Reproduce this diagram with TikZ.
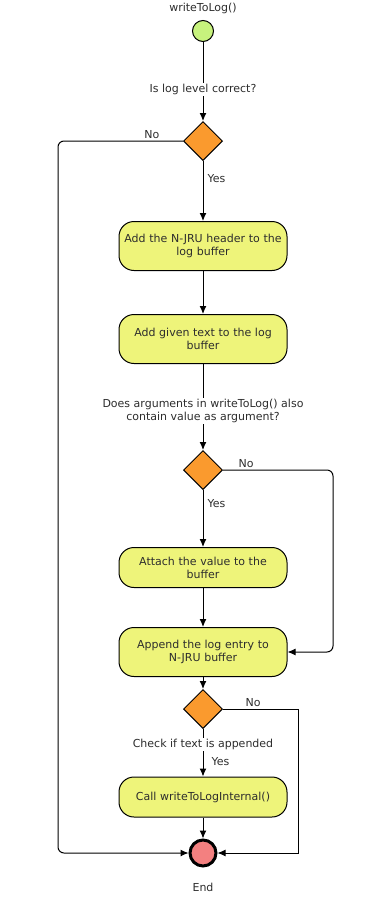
\documentclass[tikz,border=0pt]{standalone}
\usepackage{fontspec}
\setmainfont{DejaVu Sans}
\usetikzlibrary{arrows.meta,shapes.geometric}
\definecolor{startgruen}{RGB}{199,242,125}
\definecolor{deciorange}{RGB}{250,154,46}
\definecolor{actgelb}{RGB}{238,244,122}
\definecolor{endrot}{RGB}{243,128,128}
\definecolor{textgrau}{RGB}{45,45,45}

\begin{document}
\begin{tikzpicture}[
        x=1pt, y=-1pt,
        line width=1pt,
        >={Latex[length=8pt,width=7pt]},
        font=\fontsize{11}{13}\selectfont,
        action/.style={draw, rounded corners=15pt, fill=actgelb, text=textgrau, minimum width=168pt, minimum height=40pt, text width=164pt, align=center, inner sep=2pt},
        tall/.style={minimum height=49pt},
        decision/.style={draw, diamond, fill=deciorange, minimum width=39pt, minimum height=39pt, inner sep=0pt},
        guard/.style={fill=white, inner sep=1pt, align=center, text=textgrau},
        lbl/.style={inner sep=2pt, text=textgrau}
    ]
        \useasboundingbox (0,0) rectangle (374,897);
        % start / end
        \node[lbl] (title) at (203,8) {writeToLog()};
        \node[draw, circle, fill=startgruen, minimum size=21pt, inner sep=0pt] (start) at (203,31) {};
        \node[draw, circle, fill=endrot, line width=3pt, minimum size=26pt, inner sep=0pt] (finish) at (203,853) {};
        \node[lbl] (endlbl) at (203,887) {End};
        % actions and decisions
        \node[decision] (chk1) at (203,141) {};
        \node[action, tall] (hdr) at (203,246) {Add the N-JRU header to the\\log buffer};
        \node[action, tall] (addtxt) at (203,339) {Add given text to the log\\buffer};
        \node[decision] (chk2) at (203,470) {};
        \node[action] (attach) at (203,567.5) {Attach the value to the\\buffer};
        \node[action, tall] (append) at (203,652) {Append the log entry to\\N-JRU buffer};
        \node[decision] (chk3) at (203,709) {};
        \node[action] (call) at (203,797) {Call writeToLogInternal()};
        % side rails
        \coordinate (railL) at (58,0);
        \coordinate (railR) at (333,0);
        \coordinate (railE) at (298,0);
        % flow
        \draw[->] (start) -- node[guard, pos=0.6] {Is log level correct?} (chk1);
        \draw[->, rounded corners=6pt] (chk1.west) -- node[lbl, above, pos=0.25] {No} (chk1.west -| railL) |- (finish.west);
        \draw[->] (chk1) -- node[lbl, right, pos=0.3, xshift=2pt] {Yes} (hdr);
        \draw[->] (hdr) -- (addtxt);
        \draw[->] (addtxt) -- node[guard, pos=0.55] {Does arguments in writeToLog() also\\contain value as argument?} (chk2);
        \draw[->, rounded corners=6pt] (chk2.east) -- node[lbl, above, pos=0.21] {No} (chk2.east -| railR) |- (append.east);
        \draw[->] (chk2) -- node[lbl, right, pos=0.24, xshift=2pt] {Yes} (attach);
        \draw[->] (attach) -- (append);
        \draw[->] (append) -- (chk3);
        \draw[->] (chk3.east) -- node[lbl, above, pos=0.4] {No} (chk3.east -| railE) |- (finish.east);
        \draw[->] (chk3) -- node[guard, pos=0.32] {Check if text is appended} node[lbl, right, pos=0.69, xshift=6pt] {Yes} (call);
        \draw[->] (call) -- (finish);
    \end{tikzpicture}
\end{document}
